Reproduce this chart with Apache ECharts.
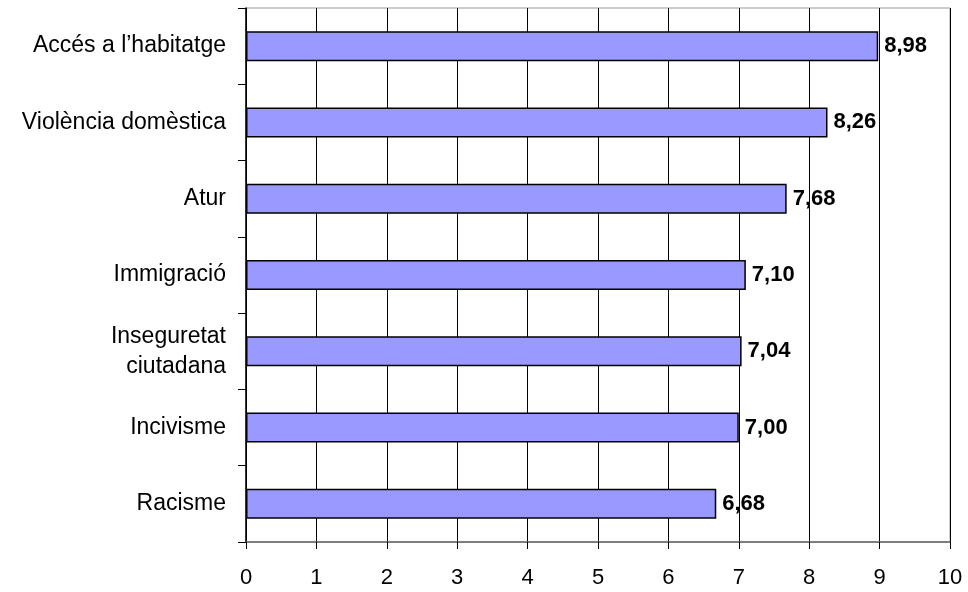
<!DOCTYPE html>
<html>
<head>
<meta charset="utf-8">
<script src="https://cdn.jsdelivr.net/npm/echarts@6/dist/echarts.min.js"></script>
<style>
html, body { margin: 0; padding: 0; background: #fff; }
#chart { width: 968px; height: 592px; }
</style>
</head>
<body>
<div id="chart"></div>
<script>
// bottom-to-top order (category axis starts at the bottom)
var categories = ["Racisme", "Incivisme", "Inseguretat\nciutadana", "Immigració", "Atur", "Violència domèstica", "Accés a l’habitatge"];
var values = [6.68, 7.00, 7.04, 7.10, 7.68, 8.26, 8.98];

var chart = echarts.init(document.getElementById("chart"));
var option = {
  animation: false,
  textStyle: { fontFamily: "Liberation Sans, Arial, sans-serif" },
  grid: { left: 246, right: 18, top: 8, bottom: 50, containLabel: false,
    show: true, borderColor: "#999", borderWidth: 1 },
  xAxis: {
    type: "value",
    min: 0,
    max: 10,
    interval: 1,
    axisLine: { show: true, lineStyle: { color: "#666", width: 1.5 } },
    axisTick: { show: true, length: 7, lineStyle: { color: "#000" } },
    axisLabel: { color: "#000", fontSize: 22, margin: 25 },
    splitLine: { show: true, lineStyle: { color: "#000", width: 1 } }
  },
  yAxis: {
    type: "category",
    data: categories,
    axisLine: { show: true, lineStyle: { color: "#000", width: 1.5 } },
    axisTick: { show: true, length: 8, lineStyle: { color: "#000" } },
    axisLabel: { color: "#000", fontSize: 23, margin: 20, lineHeight: 30 },
    splitLine: { show: false }
  },
  series: [{
    type: "bar",
    data: values,
    barWidth: 30,
    itemStyle: { color: "#9999ff", borderColor: "#000", borderWidth: 1.5 },
    label: {
      show: true,
      position: "right",
      distance: 6,
      color: "#000",
      fontSize: 22,
      fontWeight: "bold",
      formatter: function (p) { return p.value.toFixed(2).replace(".", ","); }
    }
  }]
};
chart.setOption(option);
</script>
</body>
</html>
